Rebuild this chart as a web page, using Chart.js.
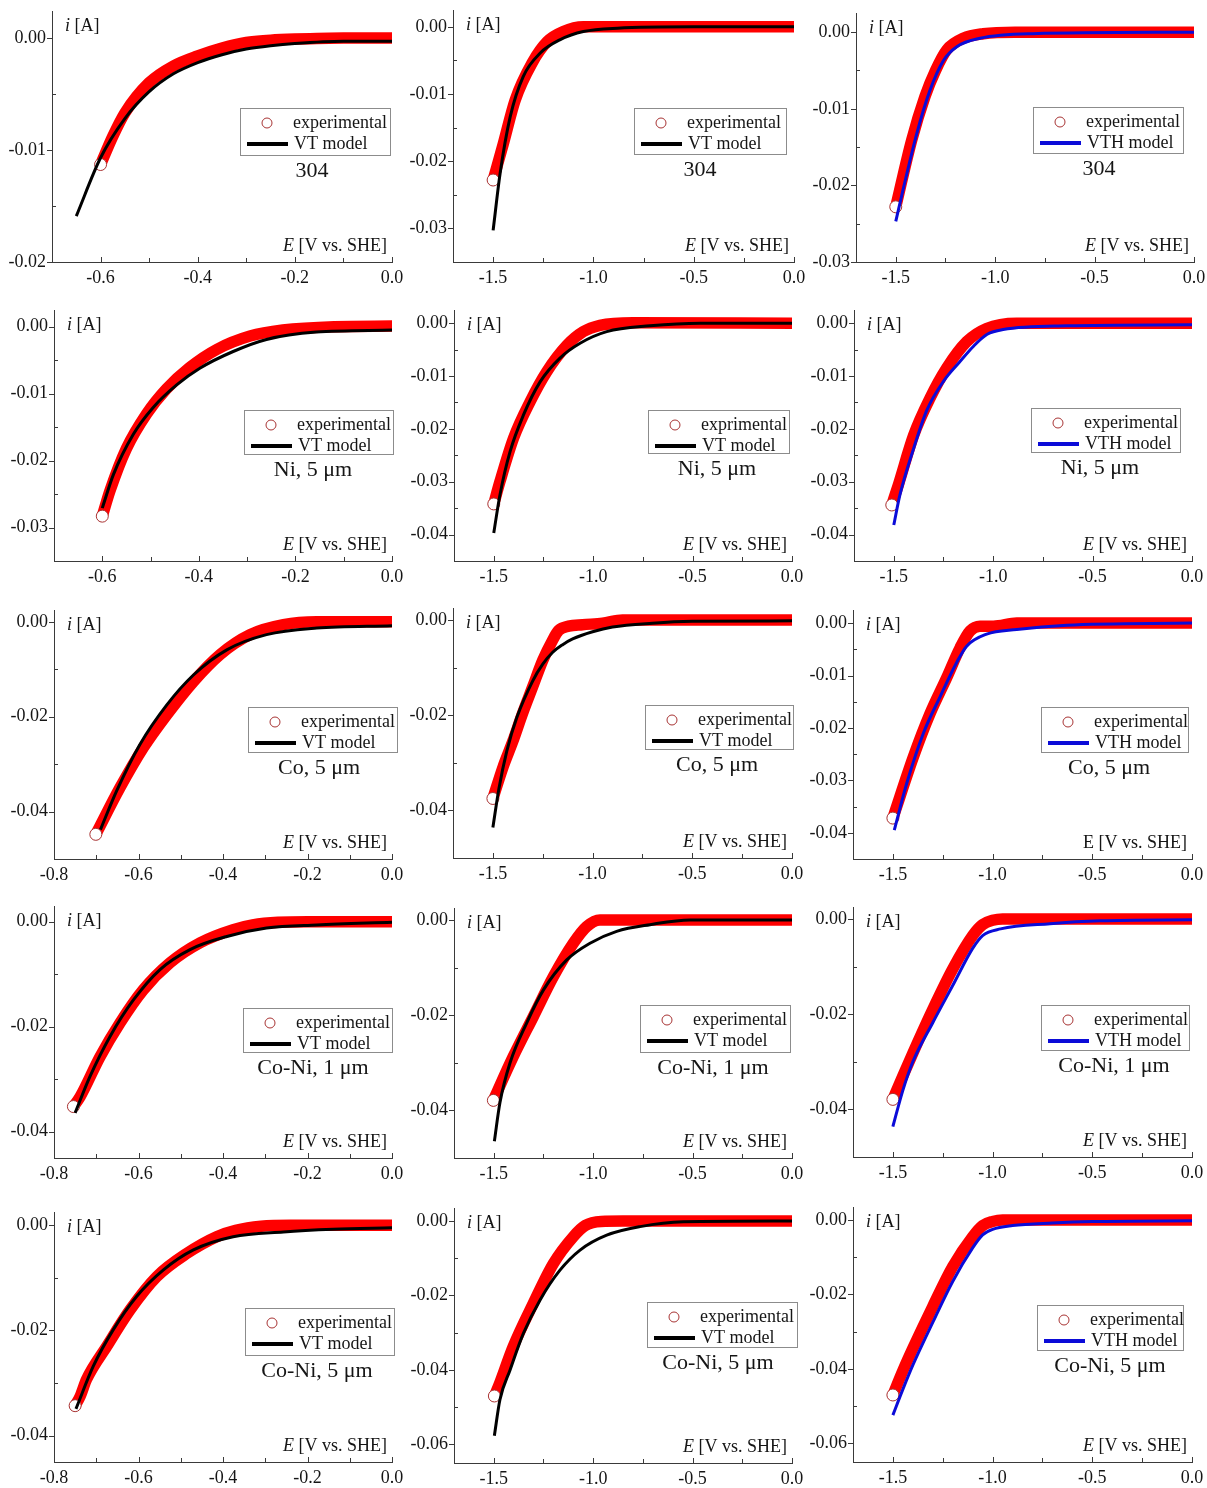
<!DOCTYPE html>
<html>
<head>
<meta charset="utf-8">
<script src="https://cdn.jsdelivr.net/npm/chart.js@4.4.1/dist/chart.umd.min.js"></script>
<style>
  html, body { margin: 0; background: #fff; }
  #wrap { position: relative; width: 1207px; height: 1488px; overflow: hidden; }
  #wrap canvas { position: absolute; }
</style>
</head>
<body>
<div id="wrap"></div>
<script>
// [E (V vs. SHE), i (A)] pairs; pNM = row N, column M
const p11_exp = [[-0.6,-0.0113],[-0.575,-0.0088],[-0.55,-0.0067],[-0.5,-0.0040],[-0.45,-0.0025],[-0.4,-0.0016],[-0.35,-0.0009],[-0.3,-0.0004],[-0.25,-0.0002],[-0.2,-0.0001],[-0.1,0],[0,0]];
const p11_mod = [[-0.65,-0.0159],[-0.6,-0.0107],[-0.55,-0.0072],[-0.5,-0.0048],[-0.45,-0.0032],[-0.4,-0.0022],[-0.35,-0.0015],[-0.3,-0.0010],[-0.25,-0.0007],[-0.2,-0.0005],[-0.1,-0.0003],[0,-0.0003]];
const p12_exp = [[-1.5,-0.0228],[-1.45,-0.0175],[-1.39,-0.0109],[-1.306,-0.0054],[-1.23,-0.0022],[-1.15,-0.0007],[-1.05,0],[0,0]];
const p12_mod = [[-1.5,-0.0303],[-1.465,-0.0218],[-1.415,-0.0134],[-1.35,-0.0074],[-1.265,-0.0039],[-1.165,-0.0019],[-1.05,-0.0007],[-0.88,-0.0002],[-0.5,0],[0,0]];
const p13_exp = [[-1.5,-0.0228],[-1.42,-0.0141],[-1.353,-0.0084],[-1.30,-0.0050],[-1.243,-0.0023],[-1.16,-0.0008],[-1.06,-0.0002],[-0.9,0],[0,0]];
const p13_mod = [[-1.5,-0.0247],[-1.46,-0.0202],[-1.394,-0.0132],[-1.328,-0.0076],[-1.26,-0.0037],[-1.193,-0.0019],[-1.076,-0.0008],[-0.81,-0.0002],[0,0]];

const p21_exp = [[-0.6,-0.0283],[-0.584,-0.0245],[-0.55,-0.0182],[-0.508,-0.0130],[-0.467,-0.0093],[-0.419,-0.0061],[-0.363,-0.0034],[-0.294,-0.0014],[-0.226,-0.0005],[-0.12,0],[0,0.0001]];
const p21_mod = [[-0.6,-0.0271],[-0.577,-0.0221],[-0.536,-0.0161],[-0.495,-0.0121],[-0.446,-0.0087],[-0.398,-0.0062],[-0.329,-0.0037],[-0.26,-0.0019],[-0.157,-0.0008],[0,-0.0005]];
const p22_exp = [[-1.5,-0.0342],[-1.469,-0.0300],[-1.40,-0.0217],[-1.318,-0.0149],[-1.234,-0.0092],[-1.133,-0.0042],[-1.05,-0.0016],[-0.966,-0.0004],[-0.8,0.0001],[0,0]];
const p22_mod = [[-1.5,-0.0397],[-1.469,-0.0325],[-1.418,-0.0243],[-1.351,-0.0174],[-1.267,-0.0111],[-1.167,-0.0066],[-1.066,-0.0038],[-0.932,-0.0016],[-0.714,-0.0005],[-0.46,0],[0,0]];
const p23_exp = [[-1.51,-0.0344],[-1.477,-0.0306],[-1.40,-0.0212],[-1.318,-0.0142],[-1.234,-0.0085],[-1.133,-0.0035],[-1.033,-0.0010],[-0.882,0],[0,0]];
const p23_mod = [[-1.5,-0.0382],[-1.469,-0.0325],[-1.40,-0.0237],[-1.334,-0.0165],[-1.25,-0.0110],[-1.17,-0.0074],[-1.1,-0.0044],[-1.03,-0.0021],[-0.95,-0.0012],[-0.63,-0.0005],[0,-0.0003]];

const p31_exp = [[-0.701,-0.0448],[-0.644,-0.0350],[-0.589,-0.0266],[-0.533,-0.0196],[-0.47,-0.0126],[-0.407,-0.0069],[-0.336,-0.0027],[-0.257,-0.0006],[-0.178,0],[0,0]];
const p31_mod = [[-0.69,-0.0438],[-0.652,-0.0357],[-0.597,-0.0259],[-0.533,-0.0175],[-0.47,-0.0112],[-0.391,-0.0059],[-0.297,-0.0027],[-0.178,-0.0013],[0,-0.0008]];
const p32_exp = [[-1.5,-0.0375],[-1.45,-0.0310],[-1.4,-0.0255],[-1.35,-0.0195],[-1.3,-0.0140],[-1.25,-0.0085],[-1.2,-0.0042],[-1.17,-0.0022],[-1.12,-0.0013],[-1.05,-0.0010],[-0.95,-0.0007],[-0.85,0],[0,0]];
const p32_mod = [[-1.5,-0.0436],[-1.47,-0.0355],[-1.43,-0.0275],[-1.38,-0.0205],[-1.3,-0.0128],[-1.25,-0.0093],[-1.2,-0.0068],[-1.15,-0.0052],[-1.1,-0.0040],[-1.0,-0.0025],[-0.9,-0.0015],[-0.7,-0.0007],[-0.5,-0.0003],[0,-0.0002]];
const p33_exp = [[-1.5,-0.0372],[-1.397,-0.0255],[-1.314,-0.0173],[-1.23,-0.0104],[-1.163,-0.0047],[-1.113,-0.0015],[-1.063,-0.0006],[-0.996,-0.0006],[-0.879,0],[0,0]];
const p33_mod = [[-1.493,-0.0395],[-1.43,-0.0305],[-1.347,-0.0210],[-1.264,-0.0141],[-1.18,-0.0075],[-1.13,-0.0044],[-1.03,-0.0021],[-0.879,-0.0012],[-0.628,-0.0004],[0,0]];

const p41_exp = [[-0.754,-0.0352],[-0.738,-0.0333],[-0.691,-0.0257],[-0.644,-0.0193],[-0.589,-0.0130],[-0.525,-0.0078],[-0.454,-0.0040],[-0.376,-0.0015],[-0.33,-0.0006],[-0.27,-0.0001],[-0.2,0],[0,0]];
const p41_mod = [[-0.75,-0.0364],[-0.715,-0.0295],[-0.667,-0.0218],[-0.612,-0.0149],[-0.549,-0.0091],[-0.478,-0.0053],[-0.391,-0.0028],[-0.297,-0.0012],[-0.178,-0.0006],[0,-0.0001]];
const p42_exp = [[-1.502,-0.0379],[-1.485,-0.0363],[-1.402,-0.0287],[-1.301,-0.0203],[-1.20,-0.0119],[-1.10,-0.0049],[-1.033,-0.0014],[-0.966,0],[0,0]];
const p42_mod = [[-1.497,-0.0465],[-1.469,-0.0384],[-1.418,-0.0300],[-1.334,-0.0216],[-1.25,-0.0147],[-1.133,-0.0084],[-1.016,-0.0049],[-0.882,-0.0024],[-0.714,-0.0010],[-0.513,0],[0,0]];
const p43_exp = [[-1.5,-0.0379],[-1.45,-0.0330],[-1.4,-0.0282],[-1.3,-0.0190],[-1.2,-0.0105],[-1.1,-0.0035],[-1.05,-0.0012],[-1.0,-0.0003],[-0.95,0],[0,0]];
const p43_mod = [[-1.5,-0.0436],[-1.45,-0.0360],[-1.4,-0.0300],[-1.3,-0.0218],[-1.2,-0.0140],[-1.1,-0.0062],[-1.05,-0.0035],[-0.96,-0.0021],[-0.712,-0.0010],[-0.46,-0.0004],[0,-0.0002]];

const p51_exp = [[-0.75,-0.0343],[-0.738,-0.0325],[-0.723,-0.0293],[-0.675,-0.0230],[-0.62,-0.0161],[-0.557,-0.0098],[-0.486,-0.0054],[-0.415,-0.0022],[-0.37,-0.0010],[-0.31,-0.0002],[-0.24,0],[0,0]];
const p51_mod = [[-0.748,-0.0349],[-0.707,-0.0268],[-0.66,-0.0199],[-0.605,-0.0136],[-0.541,-0.0085],[-0.47,-0.0047],[-0.376,-0.0022],[-0.257,-0.0013],[-0.139,-0.0008],[0,-0.0005]];
const p52_exp = [[-1.497,-0.0470],[-1.477,-0.0445],[-1.402,-0.0337],[-1.301,-0.0221],[-1.20,-0.0114],[-1.1,-0.0042],[-1.04,-0.0012],[-0.96,-0.0001],[-0.85,0],[0,0]];
const p52_mod = [[-1.497,-0.0577],[-1.469,-0.0480],[-1.418,-0.0400],[-1.351,-0.0302],[-1.267,-0.0212],[-1.167,-0.0132],[-1.066,-0.0078],[-0.932,-0.0038],[-0.764,-0.0015],[-0.546,-0.0002],[0,0]];
const p53_exp = [[-1.5,-0.0470],[-1.45,-0.0405],[-1.4,-0.0345],[-1.3,-0.0232],[-1.2,-0.0125],[-1.1,-0.0045],[-1.05,-0.0015],[-1.0,-0.0004],[-0.95,0],[0,0]];
const p53_mod = [[-1.5,-0.0524],[-1.45,-0.0455],[-1.4,-0.0390],[-1.3,-0.0275],[-1.2,-0.0165],[-1.1,-0.0075],[-1.05,-0.0040],[-1.0,-0.0025],[-0.9,-0.0015],[-0.7,-0.0008],[-0.5,-0.0004],[0,-0.0002]];

// sample names per row, model names per column
const samples = ['304', 'Ni, 5 \u03bcm', 'Co, 5 \u03bcm', 'Co-Ni, 1 \u03bcm', 'Co-Ni, 5 \u03bcm'];
const models = ['VT model', 'VT model', 'VTH model'];

const SERIF = "'Liberation Serif', 'Times New Roman', serif";
const INK = '#151515';
const AXIS = '#3a3a3a';
const RED = '#ff0000';
const RING = '#a83434';
const BLUE = '#0b0bd8';
const PAD_L = 52, PAD_T = 12, PAD_R = 14, PAD_B = 28;

// layout: plot rectangle (page px), axis ranges, legend box (page px), label centre x
const panels = [
  { exp: p11_exp, mod: p11_mod, r: 0, c: 0, rect: [52, 11, 392, 262],   x: [-0.7, 0], xs: [0.2, 0.1],  y: [-0.02, 0.0024],  ys: [0.01, 0.005], leg: [240, 108, 390, 155],   lx: 312 },
  { exp: p12_exp, mod: p12_mod, r: 0, c: 1, rect: [453, 10, 794, 262],  x: [-1.7, 0], xs: [0.5, 0.25], y: [-0.035, 0.0025], ys: [0.01, 0.005], leg: [634, 108, 786, 154],   lx: 700 },
  { exp: p13_exp, mod: p13_mod, r: 0, c: 2, rect: [856, 13, 1194, 262], x: [-1.7, 0], xs: [0.5, 0.25], y: [-0.03, 0.0025],  ys: [0.01, 0.005], leg: [1033, 107, 1183, 153], lx: 1099 },

  { exp: p21_exp, mod: p21_mod, r: 1, c: 0, rect: [54, 310, 392, 561],   x: [-0.7, 0], xs: [0.2, 0.1],  y: [-0.035, 0.0025], ys: [0.01, 0.005], leg: [244, 410, 393, 454],   lx: 313 },
  { exp: p22_exp, mod: p22_mod, r: 1, c: 1, rect: [454, 310, 792, 561],  x: [-1.7, 0], xs: [0.5, 0.25], y: [-0.045, 0.0025], ys: [0.01, 0.005], leg: [648, 410, 789, 453],   lx: 717, expText: 'exprimental' },
  { exp: p23_exp, mod: p23_mod, r: 1, c: 2, rect: [854, 310, 1192, 561], x: [-1.7, 0], xs: [0.5, 0.25], y: [-0.045, 0.0025], ys: [0.01, 0.005], leg: [1031, 408, 1180, 452], lx: 1100 },

  { exp: p31_exp, mod: p31_mod, r: 2, c: 0, rect: [54, 610, 392, 859],   x: [-0.8, 0], xs: [0.2, 0.1],  y: [-0.05, 0.0025],  ys: [0.02, 0.01],  leg: [248, 707, 397, 752],   lx: 319 },
  { exp: p32_exp, mod: p32_mod, r: 2, c: 1, rect: [453, 608, 792, 858],  x: [-1.7, 0], xs: [0.5, 0.25], y: [-0.05, 0.0025],  ys: [0.02, 0.01],  leg: [645, 705, 793, 749],   lx: 717 },
  { exp: p33_exp, mod: p33_mod, r: 2, c: 2, rect: [853, 610, 1192, 859], x: [-1.7, 0], xs: [0.5, 0.25], y: [-0.045, 0.0025], ys: [0.01, 0.005], leg: [1041, 707, 1188, 752], lx: 1109, uprightE: true },

  { exp: p41_exp, mod: p41_mod, r: 3, c: 0, rect: [54, 906, 392, 1158],   x: [-0.8, 0], xs: [0.2, 0.1],  y: [-0.045, 0.003],  ys: [0.02, 0.01], leg: [243, 1008, 392, 1052],  lx: 313 },
  { exp: p42_exp, mod: p42_mod, r: 3, c: 1, rect: [454, 908, 792, 1158],  x: [-1.7, 0], xs: [0.5, 0.25], y: [-0.05, 0.0025], ys: [0.02, 0.01], leg: [640, 1005, 790, 1052],  lx: 713 },
  { exp: p43_exp, mod: p43_mod, r: 3, c: 2, rect: [853, 907, 1192, 1157], x: [-1.7, 0], xs: [0.5, 0.25], y: [-0.05, 0.0025], ys: [0.02, 0.01], leg: [1041, 1005, 1189, 1050], lx: 1114 },

  { exp: p51_exp, mod: p51_mod, r: 4, c: 0, rect: [54, 1212, 392, 1462],   x: [-0.8, 0], xs: [0.2, 0.1],  y: [-0.045, 0.0025], ys: [0.02, 0.01], leg: [245, 1308, 394, 1355],  lx: 317 },
  { exp: p52_exp, mod: p52_mod, r: 4, c: 1, rect: [454, 1208, 792, 1463],  x: [-1.7, 0], xs: [0.5, 0.25], y: [-0.065, 0.0035], ys: [0.02, 0.01], leg: [647, 1302, 797, 1347],  lx: 718 },
  { exp: p53_exp, mod: p53_mod, r: 4, c: 2, rect: [853, 1207, 1192, 1462], x: [-1.7, 0], xs: [0.5, 0.25], y: [-0.065, 0.0035], ys: [0.02, 0.01], leg: [1037, 1305, 1183, 1350], lx: 1110 },
];

// major + minor tick marks (x: inward, y: major outward / minor inward)
const tickMarks = {
  id: 'tickMarks',
  afterDraw(chart, args, o) {
    const { ctx, chartArea: a, scales: { x, y } } = chart;
    ctx.save();
    ctx.strokeStyle = AXIS;
    ctx.lineWidth = 1;
    const isMajor = (k, minor, major) => Math.abs(k * minor / major - Math.round(k * minor / major)) < 1e-6;
    for (let k = Math.ceil(x.min / o.xs[1] - 1e-6); k * o.xs[1] <= x.max + 1e-9; k++) {
      const px = Math.round(x.getPixelForValue(k * o.xs[1])) + 0.5;
      const len = isMajor(k, o.xs[1], o.xs[0]) ? 5 : 4;
      ctx.beginPath(); ctx.moveTo(px, a.bottom); ctx.lineTo(px, a.bottom - len); ctx.stroke();
    }
    for (let k = Math.ceil(y.min / o.ys[1] - 1e-6); k * o.ys[1] <= y.max + 1e-9; k++) {
      const py = Math.round(y.getPixelForValue(k * o.ys[1])) + 0.5;
      ctx.beginPath();
      if (isMajor(k, o.ys[1], o.ys[0])) { ctx.moveTo(a.left, py); ctx.lineTo(a.left - 5, py); }
      else { ctx.moveTo(a.left, py); ctx.lineTo(a.left + 4, py); }
      ctx.stroke();
    }
    ctx.restore();
  }
};

// axis titles, boxed legend and sample name
const deco = {
  id: 'deco',
  afterDraw(chart, args, o) {
    const { ctx, chartArea: a } = chart;
    const cx = v => v - o.ox, cy = v => v - o.oy;
    ctx.save();
    ctx.fillStyle = INK;
    ctx.textBaseline = 'middle';
    ctx.textAlign = 'left';

    ctx.font = 'italic 18px ' + SERIF;
    ctx.fillText('i', a.left + 13, a.top + 15);
    const iw = ctx.measureText('i').width;
    ctx.font = '18px ' + SERIF;
    ctx.fillText(' [A]', a.left + 13 + iw, a.top + 15);

    ctx.textAlign = 'right';
    const rest = ' [V vs. SHE]';
    const rw = ctx.measureText(rest).width;
    ctx.fillText(rest, a.right - 5, a.bottom - 16);
    ctx.font = (o.uprightE ? '' : 'italic ') + '18px ' + SERIF;
    ctx.fillText('E', a.right - 5 - rw, a.bottom - 16);

    const [L, T, R, B] = [cx(o.leg[0]), cy(o.leg[1]), cx(o.leg[2]), cy(o.leg[3])];
    ctx.fillStyle = '#fff';
    ctx.fillRect(L, T, R - L, B - T);
    ctx.strokeStyle = '#8c8c8c';
    ctx.lineWidth = 1;
    ctx.strokeRect(L + 0.5, T + 0.5, R - L, B - T);

    ctx.beginPath();
    ctx.arc(L + 27, T + 15, 5, 0, Math.PI * 2);
    ctx.strokeStyle = RING;
    ctx.stroke();
    ctx.beginPath();
    ctx.moveTo(L + 7, T + 36); ctx.lineTo(L + 48, T + 36);
    ctx.strokeStyle = o.modelColor;
    ctx.lineWidth = 4;
    ctx.stroke();

    ctx.fillStyle = INK;
    ctx.textAlign = 'left';
    ctx.font = '18px ' + SERIF;
    ctx.fillText(o.expText, L + 53, T + 15);
    ctx.fillText(o.modelText, L + 54, T + 36);

    ctx.textAlign = 'center';
    ctx.textBaseline = 'alphabetic';
    ctx.font = '22px ' + SERIF;
    ctx.fillText(o.sample, cx(o.lx), B + 22);
    ctx.restore();
  }
};

const wrap = document.getElementById('wrap');
const toXY = arr => arr.map(([x, y]) => ({ x, y }));

panels.forEach(p => {
  const [L, T, R, B] = p.rect;
  const canvas = document.createElement('canvas');
  canvas.width = R - L + PAD_L + PAD_R;
  canvas.height = B - T + PAD_T + PAD_B;
  const ox = L - PAD_L, oy = T - PAD_T;
  canvas.style.left = ox + 'px';
  canvas.style.top = oy + 'px';
  wrap.appendChild(canvas);

  const modelColor = p.c === 2 ? BLUE : '#000';
  const tickFont = { family: SERIF, size: 18 };

  new Chart(canvas, {
    type: 'line',
    data: {
      datasets: [
        {
          data: toXY(p.mod),
          borderColor: modelColor,
          borderWidth: 3,
          pointRadius: 0,
          cubicInterpolationMode: 'monotone',
        },
        {
          data: toXY(p.exp.slice(0, 1)),
          showLine: false,
          pointRadius: 6,
          pointBackgroundColor: '#fff',
          pointBorderColor: RING,
          pointBorderWidth: 1,
        },
        {
          data: toXY(p.exp),
          borderColor: RED,
          borderWidth: 11.5,
          pointRadius: 0,
          cubicInterpolationMode: 'monotone',
          borderCapStyle: 'round',
          borderJoinStyle: 'round',
        },
      ],
    },
    options: {
      responsive: false,
      animation: false,
      events: [],
      devicePixelRatio: 1,
      layout: { padding: { top: PAD_T, right: PAD_R, left: 0, bottom: 0 } },
      plugins: {
        legend: { display: false },
        tooltip: { enabled: false },
        tickMarks: { xs: p.xs, ys: p.ys },
        deco: {
          ox, oy,
          leg: p.leg,
          lx: p.lx,
          sample: samples[p.r],
          expText: p.expText || 'experimental',
          modelText: models[p.c],
          modelColor,
          uprightE: !!p.uprightE,
        },
      },
      scales: {
        x: {
          type: 'linear',
          min: p.x[0],
          max: p.x[1],
          grid: { display: false, drawTicks: false },
          border: { display: true, color: AXIS, width: 1 },
          ticks: {
            stepSize: p.xs[0],
            includeBounds: false,
            autoSkip: false,
            maxRotation: 0,
            padding: 5,
            color: INK,
            font: tickFont,
            callback: v => (Math.abs(v) < 1e-9 ? 0 : v).toFixed(1),
          },
          afterFit: s => { s.height = PAD_B; s.paddingLeft = 0; s.paddingRight = 0; },
        },
        y: {
          type: 'linear',
          min: p.y[0],
          max: p.y[1],
          grid: { display: false, drawTicks: false },
          border: { display: true, color: AXIS, width: 1 },
          ticks: {
            stepSize: p.ys[0],
            includeBounds: false,
            autoSkip: false,
            padding: 6,
            color: INK,
            font: tickFont,
            callback: v => (Math.abs(v) < 1e-9 ? 0 : v).toFixed(2),
          },
          afterFit: s => { s.width = PAD_L; s.paddingTop = 0; s.paddingBottom = 0; },
        },
      },
    },
    plugins: [tickMarks, deco],
  });
});
</script>
</body>
</html>
